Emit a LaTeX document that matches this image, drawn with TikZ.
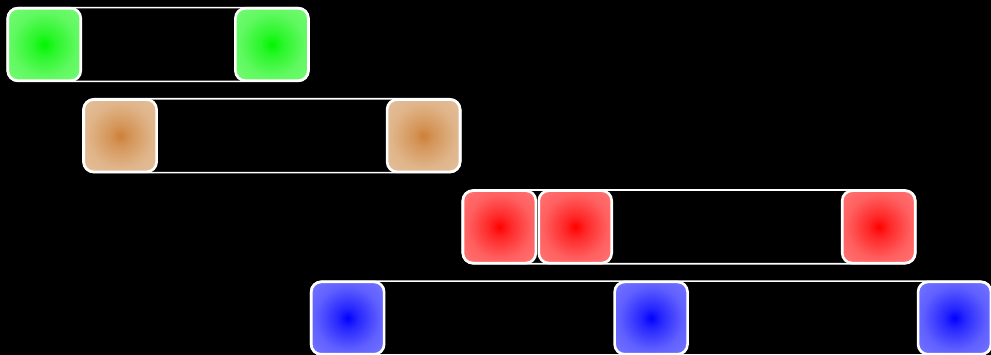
\documentclass[tikz,border=0pt]{standalone}
\usetikzlibrary{fit,backgrounds}
\definecolor{gin}{RGB}{0,245,0}
\definecolor{gout}{RGB}{128,250,128}
\definecolor{bin}{RGB}{205,128,55}
\definecolor{bout}{RGB}{230,198,165}
\definecolor{rin}{RGB}{255,0,0}
\definecolor{rout}{RGB}{255,128,128}
\definecolor{uin}{RGB}{0,0,255}
\definecolor{uout}{RGB}{128,128,255}
\pgfdeclareradialshading{greenrad}{\pgfpointorigin}{color(0bp)=(gin); color(7bp)=(gin!70!gout); color(22bp)=(gin!25!gout); color(42bp)=(gout); color(72bp)=(gout)}
\pgfdeclareradialshading{brownrad}{\pgfpointorigin}{color(0bp)=(bin); color(7bp)=(bin!70!bout); color(22bp)=(bin!25!bout); color(42bp)=(bout); color(72bp)=(bout)}
\pgfdeclareradialshading{redrad}{\pgfpointorigin}{color(0bp)=(rin); color(7bp)=(rin!70!rout); color(22bp)=(rin!25!rout); color(42bp)=(rout); color(72bp)=(rout)}
\pgfdeclareradialshading{bluerad}{\pgfpointorigin}{color(0bp)=(uin); color(7bp)=(uin!70!uout); color(22bp)=(uin!25!uout); color(42bp)=(uout); color(72bp)=(uout)}
\tikzset{
  sq/.style={rectangle, rounded corners=10pt, draw=white, line width=2.6pt,
    minimum width=72.9pt, minimum height=72.4pt, inner sep=0pt},
  gsq/.style={sq, shading=greenrad},
  bsq/.style={sq, shading=brownrad},
  rsq/.style={sq, shading=redrad},
  usq/.style={sq, shading=bluerad},
  track/.style={rectangle, rounded corners=11pt, draw=white, line width=1.6pt, inner sep=-0.6pt}
}
\begin{document}
\begin{tikzpicture}[x=1pt,y=-1pt]
\useasboundingbox (0,0) rectangle (991,355);
\def\u{75.85}
% row 1
\node[gsq] (g0) at (44.3+0*\u,44.5) {};
\node[gsq] (g3) at (44.3+3*\u,44.5) {};
% row 2
\node[bsq] (b1) at (44.3+1*\u,135.7) {};
\node[bsq] (b5) at (44.3+5*\u,135.7) {};
% row 3
\node[rsq] (r6) at (44.3+6*\u,226.9) {};
\node[rsq] (r7) at (44.3+7*\u,226.9) {};
\node[rsq] (r11) at (44.3+11*\u,226.9) {};
% row 4
\node[usq] (u4) at (44.3+4*\u,318.1) {};
\node[usq] (u8) at (44.3+8*\u,318.1) {};
\node[usq] (u12) at (44.3+12*\u,318.1) {};
\begin{scope}[on background layer]
\fill[black] (0,0) rectangle (991,355);
\node[track, fit=(g0)(g3)] (t1) {};
\node[track, fit=(b1)(b5)] (t2) {};
\node[track, fit=(r6)(r11)] (t3) {};
\node[track, fit=(u4)(u12)] (t4) {};
\end{scope}
\end{tikzpicture}
\end{document}
